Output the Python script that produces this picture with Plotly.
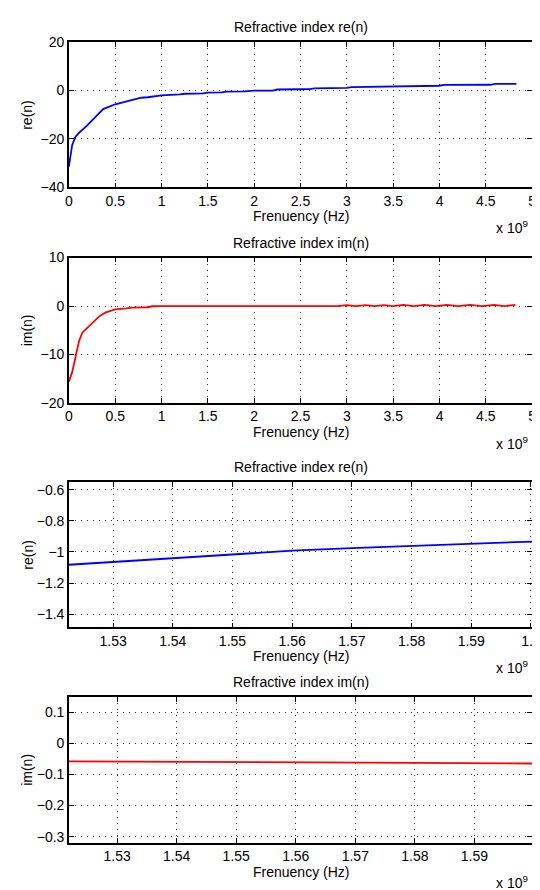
import plotly.graph_objects as go

# ---------------- data (frequency in units of 1e9 Hz) ----------------
f_re_full = [0.0, 0.018, 0.035, 0.07, 0.106, 0.195, 0.28, 0.37, 0.5, 0.62, 0.78, 0.85,
             1.0, 1.2, 1.25, 1.45, 1.5, 1.65, 1.7, 1.9, 2.0, 2.2, 2.25, 2.5, 2.6, 2.65,
             3.0, 3.05, 3.45, 3.5, 4.0, 4.05, 4.55, 4.6, 4.83]
re_full = [-31.4, -25.9, -22.6, -19.2, -17.6, -14.5, -11.4, -7.7, -5.7, -4.6, -3.0, -2.8,
           -2.0, -1.6, -1.35, -1.2, -0.9, -0.8, -0.45, -0.35, -0.1, -0.05, 0.4, 0.5, 0.55, 0.9,
           1.05, 1.4, 1.5, 1.8, 1.95, 2.3, 2.35, 2.7, 2.75]

f_im_full = [0.0, 0.036, 0.072, 0.11, 0.145, 0.235, 0.33, 0.40, 0.5, 0.62, 0.69, 0.85,
             0.9, 0.98, 1.5, 2.0, 2.5, 2.9, 3.0, 3.1, 3.2, 3.3, 3.4, 3.5, 3.61, 3.72,
             3.84, 3.96, 4.08, 4.2, 4.33, 4.46, 4.59, 4.7, 4.82]
im_full = [-15.6, -13.6, -10.5, -7.2, -5.5, -3.8, -2.1, -1.3, -0.7, -0.5, -0.35, -0.25,
           -0.05, 0.0, 0.0, 0.0, 0.0, 0.0, 0.2, 0.0, 0.2, 0.0, 0.2, 0.0, 0.22, 0.0,
           0.22, 0.0, 0.25, 0.0, 0.25, 0.0, 0.25, 0.0, 0.25]

f_re_zoom = [1.5226, 1.53, 1.54, 1.55, 1.56, 1.57, 1.58, 1.59, 1.6002]
re_zoom = [-1.082, -1.064, -1.040, -1.016, -0.992, -0.975, -0.960, -0.946, -0.933]

f_im_zoom = [1.5219, 1.54, 1.56, 1.58, 1.5997]
im_zoom = [-0.058, -0.059, -0.061, -0.063, -0.065]

titles = ["Refractive index re(n)", "Refractive index im(n)",
          "Refractive index re(n)", "Refractive index im(n)"]
ylabels = ["re(n)", "im(n)", "re(n)", "im(n)"]
xlabel = "Frenuency (Hz)"
exp_label = "x 10<sup>9</sup>"

x_ranges = [[0, 5], [0, 5], [1.5226, 1.6002], [1.5219, 1.5997]]
y_ranges = [[-40, 20], [-20, 10], [-1.484, -0.549], [-0.319, 0.149]]
x_dticks = [0.5, 0.5, 0.01, 0.01]
y_dticks = [20, 10, 0.2, 0.1]
y_tick0 = [0, 0, -1.4, 0]

# ---------------- layout geometry (pixels) ----------------
W, H = 540, 890
x_left, x_right = 58.3, 533.0
tops = [26.5, 246.0, 474.3, 693.3]
bottoms = [174.5, 394.0, 622.5, 841.7]
title_y = [11.7, 231.0, 459.3, 678.3]
xlab_y = [204.0, 424.0, 652.0, 871.5]
exp_y = [214.5, 434.5, 662.5, 882.0]

def py(p):
    return 1 - p / H

def px(p):
    return p / W

FONT = "Liberation Sans, Arial, Helvetica, sans-serif"

fig = go.Figure()
series = [(f_re_full, re_full, "#0000ff"), (f_im_full, im_full, "#ff0000"),
          (f_re_zoom, re_zoom, "#0000ff"), (f_im_zoom, im_zoom, "#ff0000")]

annotations = []
for i, (xs, ys, col) in enumerate(series):
    sfx = "" if i == 0 else str(i + 1)
    fig.add_trace(go.Scatter(x=xs, y=ys, mode="lines",
                             line=dict(color=col, width=1.8),
                             xaxis="x" + sfx, yaxis="y" + sfx,
                             showlegend=False, hoverinfo="skip"))
    common = dict(showline=True, linecolor="black", linewidth=1.5, mirror="ticks",
                  ticks="inside", ticklen=5, tickwidth=1, tickcolor="black",
                  showgrid=True, gridcolor="#333333", gridwidth=1, griddash="1px,5px",
                  zeroline=False, tickfont=dict(family=FONT, size=14, color="black"),
                  ticklabeloverflow="allow", fixedrange=True)
    fig.layout["xaxis" + sfx] = dict(common, domain=[px(x_left), px(x_right)],
                                     range=x_ranges[i], dtick=x_dticks[i], tick0=0,
                                     anchor="y" + sfx)
    fig.layout["yaxis" + sfx] = dict(common, domain=[py(bottoms[i]), py(tops[i])],
                                     range=y_ranges[i], dtick=y_dticks[i], tick0=y_tick0[i],
                                     anchor="x" + sfx)
    mid_y = (tops[i] + bottoms[i]) / 2
    annotations += [
        dict(text=titles[i], x=px((x_left + x_right) / 2), y=py(title_y[i]),
             xanchor="center", yanchor="middle", showarrow=False),
        dict(text=xlabel, x=px((x_left + x_right) / 2), y=py(xlab_y[i]),
             xanchor="center", yanchor="middle", showarrow=False),
        dict(text=ylabels[i], x=px(15.5), y=py(mid_y), textangle=-90,
             xanchor="center", yanchor="middle", showarrow=False),
        dict(text=exp_label, x=px(531), y=py(exp_y[i]),
             xanchor="right", yanchor="middle", showarrow=False),
    ]

for a in annotations:
    a.update(xref="paper", yref="paper", font=dict(family=FONT, size=14, color="black"))

fig.update_layout(width=W, height=H, margin=dict(l=0, r=0, t=0, b=0),
                  paper_bgcolor="white", plot_bgcolor="white",
                  annotations=annotations, showlegend=False)

fig.write_html("out.html")
